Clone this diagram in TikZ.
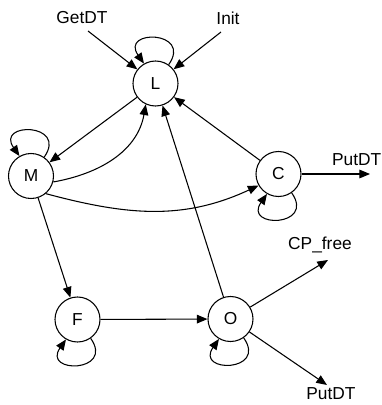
\documentclass[tikz,border=0pt]{standalone}
\usepackage{fontspec}
\setmainfont{Liberation Sans}
\usetikzlibrary{arrows.meta}
\begin{document}
\begin{tikzpicture}[x=0.75pt,y=-0.75pt,
 st/.style={circle,draw,line width=0.8pt,minimum size=33.75pt,inner sep=0pt,font=\fontsize{13}{15}\selectfont},
 lbl/.style={inner sep=0pt,font=\fontsize{13}{15}\selectfont},
 ar/.style={line width=0.8pt,-{Triangle[length=8pt,width=6.5pt]}}]
\fill[white] (0,0) rectangle (382,405);
\useasboundingbox (0,0) rectangle (382,405);
\node[st] (L) at (155.5,83.5) {L};
\node[st] (M) at (31,176) {M};
\node[st] (C) at (278.5,174) {C};
\node[st] (F) at (77.5,319.5) {F};
\node[st] (O) at (230.5,319) {O};
\node[lbl] (getdt) at (82,18) {GetDT};
\node[lbl,anchor=east] (putdtA) at (381.5,160) {PutDT};
\node[lbl] (init) at (228,18) {Init};
\node[lbl] (cpfree) at (320,245) {CP\_free};
\node[lbl] (putdtB) at (331,394) {PutDT};
\coordinate (g1) at (88,31);
\coordinate (i1) at (221,32);
\coordinate (pA) at (370,174);
\coordinate (cp) at (328,260);
\coordinate (pB) at (327,385);
% external arrows
\draw[ar] (g1) -- (L);
\draw[ar] (i1) -- (L);
\draw[ar] (C) -- (pA);
\draw[ar] (O) -- (cp);
\draw[ar] (O) -- (pB);
% edges
\draw[ar] (L) -- (M);
\draw[ar] (C) -- (L);
\draw[ar] (O) -- (L);
\draw[ar] (M) -- (F);
\draw[ar] (F) -- (O);
\draw[ar] (M.-15) to[out=10,in=-100] (L.-115);
\draw[ar] (M.-50) to[out=-15,in=-155] (C.-150);
% loops (y axis points down, so polar angles are mirrored)
\draw[ar] (L.55) .. controls +(-55:42) and +(-125:42) .. (L.120);
\draw[ar] (M.55) .. controls +(-55:42) and +(-125:42) .. (M.120);
\draw[ar] (C.-55) .. controls +(55:42) and +(125:42) .. (C.-120);
\draw[ar] (F.-55) .. controls +(55:42) and +(125:42) .. (F.-120);
\draw[ar] (O.-55) .. controls +(55:42) and +(125:42) .. (O.-120);
\end{tikzpicture}
\end{document}
